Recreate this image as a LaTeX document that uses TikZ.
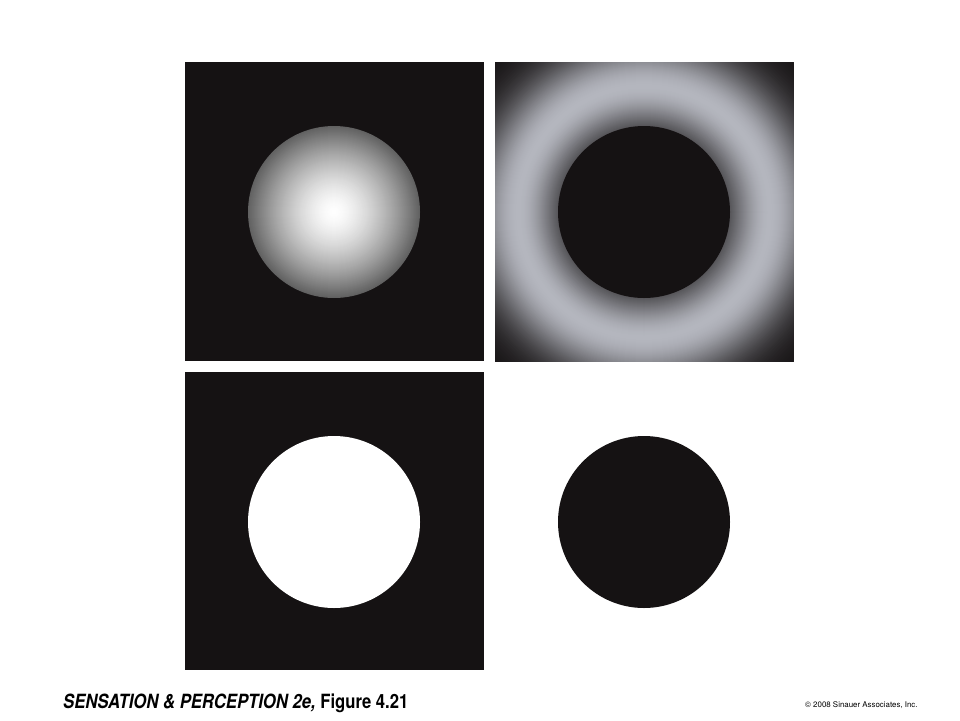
\documentclass[tikz,border=0pt]{standalone}
\usepackage{fontspec}
\setmainfont{TeX Gyre Heros}
\newfontfamily\capfont[FakeStretch=0.85]{TeX Gyre Heros}
\usepackage{tikz}
\usetikzlibrary{positioning}

\definecolor{panelblack}{RGB}{21,18,19}
\definecolor{ringtop}{RGB}{180,182,190}

\begin{document}
\begin{tikzpicture}[x=1pt, y=-1pt,
  % square grounds
  panel/.style={fill=panelblack},
  % discs, all the same size
  disc/.style={circle, minimum size=172pt, inner sep=0pt, outer sep=0pt},
  caption/.style={anchor=base west, inner sep=0pt, font=\capfont\fontsize{19.6}{24}\selectfont\bfseries},
  credit/.style={anchor=base west, inner sep=0pt, font=\fontsize{7.9}{9}\selectfont}
]
\useasboundingbox[fill=white] (0,0) rectangle (960,720);

% ---- Top row ----
\fill[panel] (185,62) rectangle (484,361);
\coordinate (spherec) at (334,212);
% sphere: white centre fading to grey rim
\foreach \r in {86,85,...,1} {
  \pgfmathsetmacro{\shadeval}{100*(1-0.62*(\r/86)^1.5)}
  \fill[white!\shadeval!black] (spherec) circle (\r);
}
\node[disc] (sphere) at (spherec) {};

% halo: bright ring round the disc, black in the corners
\begin{scope}
  \clip (495,62) rectangle (793.6,361);
  \coordinate (haloc) at (644,212);
  \foreach \r in {214,213,...,84} {
    \pgfmathsetmacro{\shadeval}{100*exp(-((\r-126)/(\r<126 ? 42 : 46))^2)}
    \fill[ringtop!\shadeval!panelblack] (haloc) circle (\r);
  }
\end{scope}
\node[disc, fill=panelblack] (hole) at (haloc) {};

% ---- Bottom row ----
\fill[panel] (185,372) rectangle (484,670);
\node[disc, fill=white] (whitedisc) at (334,522) {};
\node[disc, fill=panelblack] (blackdisc) at (644,522) {};

% ---- Labels ----
\node[caption] (title) at (63,708) {\itshape SENSATION \& PERCEPTION 2e, \upshape Figure 4.21};
\node[credit] (copy) at (805,707) {\textcopyright\ 2008 Sinauer Associates, Inc.};

\end{tikzpicture}
\end{document}
